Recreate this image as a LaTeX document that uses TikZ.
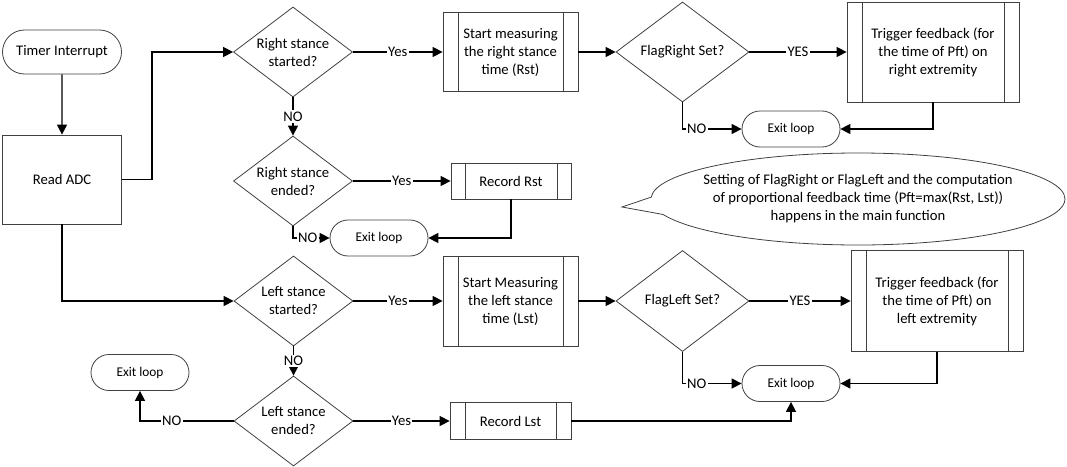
\documentclass[tikz,border=0pt]{standalone}
\usepackage{fontspec}
\setmainfont{Carlito}
\usetikzlibrary{arrows.meta, shapes.geometric, shapes.misc, shapes.callouts}
\definecolor{boxLine}{HTML}{404040}

\tikzset{
    base/.style={draw=boxLine, line width=0.6pt, font=\fontsize{11pt}{13.5pt}\selectfont, align=center, inner sep=0pt},
    terminal/.style={base, rounded rectangle, font=\fontsize{10pt}{12pt}\selectfont, minimum width=73.5pt, minimum height=27pt},
    process/.style={base, rectangle, minimum width=89.25pt, minimum height=66.75pt},
    decision/.style={base, diamond, shape aspect=1.32, minimum width=89.25pt, minimum height=67.5pt},
    predef/.style={base, rectangle, path picture={
        \draw[boxLine, line width=0.6pt] ([xshift=#1]path picture bounding box.north west) -- ([xshift=#1]path picture bounding box.south west);
        \draw[boxLine, line width=0.6pt] ([xshift=-#1]path picture bounding box.north east) -- ([xshift=-#1]path picture bounding box.south east);}},
    predef/.default=11.25pt,
    flow/.style={-{Triangle[length=7.5pt, width=7.5pt]}, line width=1.1pt},
    lbl/.style={fill=white, inner sep=1pt, font=\fontsize{11pt}{13pt}\selectfont},
}

\begin{document}
\begin{tikzpicture}[x=0.75pt, y=-0.75pt]
    \useasboundingbox (0,0) rectangle (1067,467);

    \node[terminal, minimum width=89.25pt, minimum height=33pt, font=\fontsize{11pt}{13.5pt}\selectfont] (timer) at (62,52) {Timer Interrupt};
    \node[process] (adc) at (62,179.5) {Read ADC};

    % right side
    \node[decision] (rstart) at (293,52) {Right stance\\started?};
    \node[decision] (rend) at (293,181) {Right stance\\ended?};
    \node[predef, minimum width=101.25pt, minimum height=59.25pt] (rmeasure) at (510.5,52) {Start measuring\\the right stance\\time (Rst)};
    \node[decision, shape aspect=1.33, minimum width=99.75pt, minimum height=75pt] (rflag) at (682.5,52) {FlagRight Set?};
    \node[predef, minimum width=129pt, minimum height=75pt] (rtrigger) at (933,52) {Trigger feedback (for\\the time of Pft) on\\right extremity};
    \node[terminal] (rexitA) at (791,129) {Exit loop};
    \node[predef=10.5pt, minimum width=90pt, minimum height=27pt] (rrecord) at (511,181) {Record Rst};
    \node[terminal] (rexitB) at (379,238) {Exit loop};

    % left side
    \node[decision] (lstart) at (293.5,301) {Left stance\\started?};
    \node[decision] (lend) at (293.5,421) {Left stance\\ended?};
    \node[predef, minimum width=101.25pt, minimum height=67.5pt] (lmeasure) at (510.5,301) {Start Measuring\\the left stance\\time (Lst)};
    \node[decision, shape aspect=1.33, minimum width=99.75pt, minimum height=75.75pt] (lflag) at (682.5,301) {FlagLeft Set?};
    \node[predef, minimum width=129pt, minimum height=75.75pt] (ltrigger) at (937,301) {Trigger feedback (for\\the time of Pft) on\\left extremity};
    \node[terminal] (lexitA) at (791,383.5) {Exit loop};
    \node[terminal] (lexitB) at (140,372.5) {Exit loop};
    \node[predef=11.25pt, minimum width=90.75pt, minimum height=27.75pt] (lrecord) at (510.5,421) {Record Lst};

    \node[ellipse callout, draw=boxLine, line width=0.6pt, align=center, font=\fontsize{11pt}{13.5pt}\selectfont,
          inner xsep=-9pt, inner ysep=0pt, minimum width=310.5pt, minimum height=69pt,
          callout absolute pointer={(622,207)}, callout pointer arc=22] (note) at (858,199)
          {Setting of FlagRight or FlagLeft and the computation\\of proportional feedback time (Pft=max(Rst, Lst))\\happens in the main function};

    \draw[flow] (timer) -- (adc);
    \draw[flow] (adc.east) -- ++(30,0) |- (rstart.west);
    \draw[flow] (adc.south) |- (lstart.west);

    \draw[flow] (rstart) -- node[lbl] {Yes} (rmeasure);
    \draw[flow] (rmeasure) -- (rflag);
    \draw[flow] (rflag) -- node[lbl] {YES} (rtrigger);
    \draw[flow] (rflag.south) |- node[lbl, pos=0.62] {NO} (rexitA.west);
    \draw[flow] (rtrigger.south) |- (rexitA.east);
    \draw[flow] (rstart) -- node[lbl] {NO} (rend);
    \draw[flow] (rend) -- node[lbl] {Yes} (rrecord);
    \draw[flow] (rend.south) |- node[lbl, pos=0.7] {NO} (rexitB.west);
    \draw[flow] (rrecord.south) |- (rexitB.east);

    \draw[flow] (lstart) -- node[lbl] {Yes} (lmeasure);
    \draw[flow] (lmeasure) -- (lflag);
    \draw[flow] (lflag) -- node[lbl] {YES} (ltrigger);
    \draw[flow] (lflag.south) |- node[lbl, pos=0.62] {NO} (lexitA.west);
    \draw[flow] (ltrigger.south) |- (lexitA.east);
    \draw[flow] (lstart) -- node[lbl] {NO} (lend);
    \draw[flow] (lend) -- node[lbl] {Yes} (lrecord);
    \draw[flow] (lend.west) -| node[lbl, pos=0.33] {NO} (lexitB.south);
    \draw[flow] (lrecord.east) -| (lexitA.south);
\end{tikzpicture}
\end{document}
